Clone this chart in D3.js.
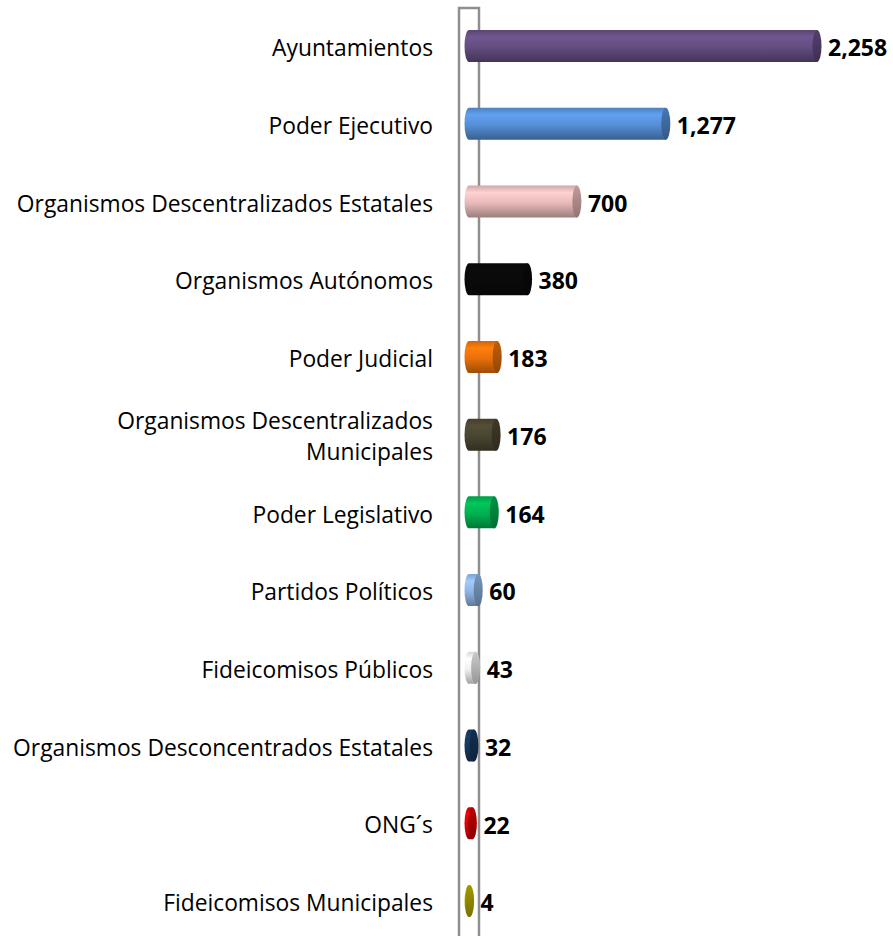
<html lang='en'>
<head>
  <meta charset='UTF-8'/>
  <title>Sujetos obligados</title>
  <script src='https://d3js.org/d3.v7.min.js'></script>
  <style>
    body { margin: 0; background: #fff; }
    .cat { font-family: 'Open Sans', sans-serif; font-size: 22.8px; fill: #000; }
    .val { font-family: 'Open Sans', sans-serif; font-size: 23px; font-weight: bold; fill: #000; }
  </style>
</head>
<body>
  <svg id="chart" width="893" height="936"></svg>
<script>

const categories = [
  'Ayuntamientos',
  'Poder Ejecutivo',
  'Organismos Descentralizados Estatales',
  'Organismos Autónomos',
  'Poder Judicial',
  'Organismos Descentralizados|Municipales',
  'Poder Legislativo',
  'Partidos Políticos',
  'Fideicomisos Públicos',
  'Organismos Desconcentrados Estatales',
  'ONG´s',
  'Fideicomisos Municipales'
];
const values = [2258, 1277, 700, 380, 183, 176, 164, 60, 43, 32, 22, 4];
const colors = ['#634d80', '#558ed5', '#e8b9b9', '#0a0a0a', '#e8700a', '#4a4530',
                '#00b050', '#8eb4e3', '#f0f0f0', '#17375e', '#e00000', '#c0b400'];

const svg = d3.select('#chart');
const defs = svg.append('defs');

const x = d3.scaleLinear().domain([0, 2258]).range([469, 817]);
const y = d3.scalePoint().domain(categories).range([46, 901]);
const barH = 32, rx = 4.5;

// 3d wall behind the bars
const wl = x(0) - 10, wr = x(0) + 10;
svg.append('path')
  .attr('d', `M${wl},936V8H${wr}V936`)
  .attr('fill', 'none')
  .attr('stroke', '#8f8f8f')
  .attr('stroke-width', 2.5);

categories.forEach((c, i) => {
  const base = d3.color(colors[i]);
  const g = defs.append('linearGradient')
    .attr('id', 'g' + i).attr('x1', 0).attr('y1', 0).attr('x2', 0).attr('y2', 1);
  g.append('stop').attr('offset', '0%').attr('stop-color', base.darker(0.3));
  g.append('stop').attr('offset', '22%').attr('stop-color', base.brighter(0.35));
  g.append('stop').attr('offset', '55%').attr('stop-color', base);
  g.append('stop').attr('offset', '100%').attr('stop-color', base.darker(1.1));
  const e = defs.append('linearGradient')
    .attr('id', 'e' + i).attr('x1', 0).attr('y1', 0).attr('x2', 0).attr('y2', 1);
  e.append('stop').attr('offset', '0%').attr('stop-color', base.darker(0.5));
  e.append('stop').attr('offset', '100%').attr('stop-color', base.darker(1.3));
});

const bars = svg.selectAll('.bar').data(categories).enter()
  .append('g').attr('class', 'bar');

bars.append('path')
  .attr('d', (d, i) => {
    const x0 = x(0), x1 = x(values[i]), t = y(d) - barH / 2, h = barH / 2;
    return `M${x1},${t}H${x0}A${rx},${h} 0 0 0 ${x0},${t + barH}H${x1}Z`;
  })
  .attr('fill', (d, i) => `url(#g${i})`);

bars.append('ellipse')
  .attr('cx', (d, i) => x(values[i]))
  .attr('cy', d => y(d))
  .attr('rx', rx)
  .attr('ry', barH / 2)
  .attr('fill', (d, i) => `url(#e${i})`);

bars.append('text')
  .attr('class', 'val')
  .attr('x', (d, i) => x(values[i]) + 11)
  .attr('y', d => y(d) + 2)
  .attr('dy', '0.36em')
  .text((d, i) => d3.format(',')(values[i]));

const labels = svg.selectAll('.cat').data(categories).enter()
  .append('text')
  .attr('class', 'cat')
  .attr('text-anchor', 'end')
  .attr('x', 433)
  .attr('y', d => y(d) + 2);

labels.each(function(d) {
  const lines = d.split('|');
  const t = d3.select(this);
  lines.forEach((l, k) => {
    t.append('tspan')
      .attr('x', 433)
      .attr('dy', k === 0 ? (0.36 - (lines.length - 1) * 0.68) + 'em' : '1.36em')
      .text(l);
  });
});

</script>
</body>
</html>
